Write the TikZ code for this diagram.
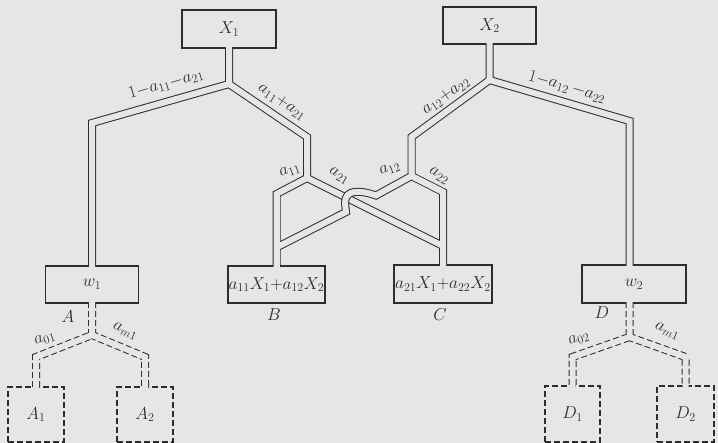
\documentclass[tikz,border=0pt]{standalone}
\usetikzlibrary{calc}
\definecolor{bg}{RGB}{230,230,233}
\definecolor{ink}{RGB}{45,45,48}
\begin{document}
\begin{tikzpicture}[x=1pt,y=-1pt,
  box/.style={draw=ink,line width=1.1pt,fill=bg,minimum width=#1,minimum height=38pt,
    inner sep=0pt,outer sep=0pt,text=ink,font=\fontsize{17}{20}\selectfont},
  dbox/.style={box=#1,dash pattern=on 6pt off 3pt},
  pipeK/.style={draw=ink,line width=8pt,line join=miter,shorten >=-0.8pt,shorten <=-0.8pt},
  pipeW/.style={draw=bg,line width=6pt,line join=miter,shorten >=-0.8pt,shorten <=-0.8pt},
  dpipeK/.style={pipeK,dash pattern=on 6pt off 3pt},
  lab/.style={inner sep=0pt,text=ink,font=\fontsize{18}{21}\selectfont},
  slab/.style={inner sep=0pt,text=ink,font=\fontsize{18}{21}\selectfont},
  big/.style={inner sep=0pt,text=ink,font=\fontsize{18}{21}\selectfont}]
\path[use as bounding box,fill=bg] (0,0) rectangle (718,443);

% boxes
\node[box=94pt] (X1) at (229,29) {$X_1$};
\node[box=93pt,minimum height=37pt] (X2) at (489.5,25.5) {$X_2$};
\node[box=93pt,minimum height=37pt] (W1) at (92,284.5) {$w_1$};
\node[box=97pt,minimum height=37pt] (B) at (276.5,284.5) {$a_{11}X_1{+}a_{12}X_2$};
\node[box=98pt] (C) at (443,284) {$a_{21}X_1{+}a_{22}X_2$};
\node[box=104pt] (W2) at (634,284) {$w_2$};
\node[dbox=56pt,minimum height=55pt] (A1) at (36,414.5) {$A_1$};
\node[dbox=56pt,minimum height=55pt] (A2) at (145,414.5) {$A_2$};
\node[dbox=55pt,minimum height=56pt] (D1) at (572.5,414) {$D_1$};
\node[dbox=57pt,minimum height=56pt] (D2) at (685.5,414) {$D_2$};

% junctions
\coordinate (s1) at (229,84);
\coordinate (c1) at (92,123);
\coordinate (c2) at (307,137);
\coordinate (s2) at (307,178);
\coordinate (c3) at (276.5,194);
\coordinate (s3) at (489.5,80);
\coordinate (c4) at (629.5,121);
\coordinate (c5) at (411.5,137);
\coordinate (s4) at (411.5,176);
\coordinate (c6) at (443,192);
\coordinate (m2) at (443,246);
\coordinate (p1) at (376,195.5);
\coordinate (q1) at (346,212);
\coordinate (m1) at (276.5,247.5);
\coordinate (sa) at (92,335);
\coordinate (ca1) at (36,357);
\coordinate (ca2) at (145,357);
\coordinate (sd) at (629.5,337);
\coordinate (cd1) at (572.5,357);
\coordinate (cd2) at (685.5,357);

% solid pipes (all but a12), outline then inside
\foreach \st in {pipeK,pipeW}{
  \draw[\st] (X1.south) -- (s1) -- (c1) -- (W1.north);
  \draw[\st] (s1) -- (c2) -- (s2) -- (c3) -- (B.north);
  \draw[\st] (s2) -- (m2);
  \draw[\st] (X2.south) -- (s3) -- (c4) -- (c4 |- W2.north);
  \draw[\st] (s3) -- (c5) -- (s4) -- (c6) -- (C.north);
}
% dashed pipes
\foreach \st in {dpipeK,pipeW}{
  \draw[\st] (W1.south) -- (sa) -- (ca1) -- (A1.north);
  \draw[\st] (sa) -- (ca2) -- (A2.north);
  \draw[\st] (c4 |- W2.south) -- (sd) -- (cd1) -- (D1.north);
  \draw[\st] (sd) -- (cd2) -- (D2.north);
}
% a12 with bridge over a21
\foreach \st in {pipeK,pipeW}{
  \draw[\st] (s4) -- (p1) .. controls (360,190) and (345,189) .. (345,203) -- (q1) -- (m1);
}
% clean merges
\draw[pipeW] (c3) -- (B.north);
\draw[pipeW] (c5) -- (s4) -- (c6);

% labels
\node[lab,rotate=16] (l1) at (166,84) {$1{-}a_{11}{-}a_{21}$};
\node[lab,rotate=-34] (l2) at (282,102) {$a_{11}{+}a_{21}$};
\node[lab,rotate=36] (l3) at (446,96) {$a_{12}{+}a_{22}$};
\node[lab,rotate=-16] (l4) at (567,87) {$1{-}a_{12}\,{-}a_{22}$};
\node[slab,rotate=20] (l5) at (290,171) {$a_{11}$};
\node[slab,rotate=-30] (l6) at (339,176) {$a_{21}$};
\node[slab,rotate=20] (l7) at (390,169) {$a_{12}$};
\node[slab,rotate=-30] (l8) at (439,176) {$a_{22}$};
\node[slab,rotate=18] (l9) at (45,339) {$a_{01}$};
\node[slab,rotate=-22] (l10) at (125,331) {$a_{m1}$};
\node[slab,rotate=18] (l11) at (579,339) {$a_{02}$};
\node[slab,rotate=-22] (l12) at (667,331) {$a_{m1}$};
\node[big] (lA) at (68,317) {$A$};
\node[big] (lB) at (274,315) {$B$};
\node[big] (lC) at (440,315) {$C$};
\node[big] (lD) at (602,313) {$D$};
\end{tikzpicture}
\end{document}
